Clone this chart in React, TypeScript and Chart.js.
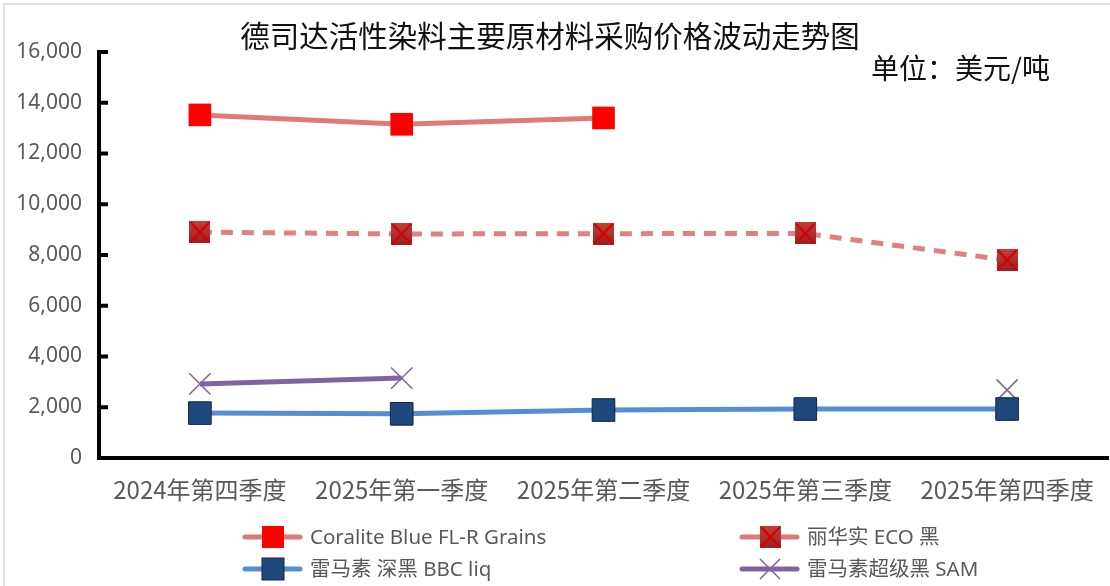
import React, { useEffect, useRef } from "react";
import { Chart, registerables } from "chart.js";

Chart.register(...registerables);

const categories = ["2024年第四季度", "2025年第一季度", "2025年第二季度", "2025年第三季度", "2025年第四季度"];
const coraliteValues = [13520, 13150, 13400, null, null];
const ecoValues = [8900, 8830, 8840, 8850, 7800];
const bbcValues = [1770, 1740, 1890, 1930, 1930];
const samValues = [2920, 3150, null, null, 2680];
const yTicks = [0, 2000, 4000, 6000, 8000, 10000, 12000, 14000, 16000];
const seriesNames = ["Coralite Blue FL-R Grains", "丽华实 ECO 黑", "雷马素 深黑 BBC liq", "雷马素超级黑 SAM"];
const titleText = "德司达活性染料主要原材料采购价格波动走势图";
const unitText = "单位：美元/吨";

function makeEcoMarker(): HTMLCanvasElement {
  const c = document.createElement("canvas");
  c.width = 21;
  c.height = 22;
  const ctx = c.getContext("2d")!;
  const g = ctx.createLinearGradient(0, 0, 0, 22);
  g.addColorStop(0, "#C0403C");
  g.addColorStop(1, "#992222");
  ctx.fillStyle = g;
  ctx.fillRect(0, 0, 21, 22);
  ctx.strokeStyle = "#D80000";
  ctx.lineWidth = 2.2;
  ctx.beginPath();
  ctx.moveTo(1, 1);
  ctx.lineTo(20, 21);
  ctx.moveTo(20, 1);
  ctx.lineTo(1, 21);
  ctx.stroke();
  return c;
}

export default function App() {
  const ref = useRef<HTMLCanvasElement>(null);

  useEffect(() => {
    if (!ref.current) return;
    const ecoMarker = makeEcoMarker();

    const deco = {
      id: "deco",
      beforeDraw(chart: any) {
        const ctx = chart.ctx;
        ctx.save();
        ctx.fillStyle = "#fff";
        ctx.fillRect(0, 0, chart.width, chart.height);
        ctx.strokeStyle = "#D9D9D9";
        ctx.lineWidth = 1.5;
        ctx.strokeRect(4, 4, chart.width + 10, chart.height + 10);
        ctx.restore();
      },
      afterDraw(chart: any) {
        const ctx = chart.ctx;
        const y = chart.scales.y;
        const left = chart.chartArea.left;
        ctx.save();
        ctx.strokeStyle = "#000";
        ctx.lineWidth = 4;
        yTicks.forEach((v) => {
          if (v === 0) return;
          const py = y.getPixelForValue(v);
          ctx.beginPath();
          ctx.moveTo(left - 2, py);
          ctx.lineTo(left + 9, py);
          ctx.stroke();
        });
        ctx.fillStyle = "#111";
        ctx.textAlign = "center";
        ctx.textBaseline = "middle";
        ctx.font = '29.5px "Noto Sans CJK SC"';
        ctx.fillText(titleText, 550, 36);
        ctx.textAlign = "left";
        ctx.font = '28px "Noto Sans CJK SC"';
        ctx.fillText(unitText, 871, 68);

        const items = [
          { x: 245, y: 537, color: "#E07A7A", marker: "redsq" },
          { x: 742, y: 537, color: "#E07A7A", marker: "eco" },
          { x: 245, y: 569, color: "#558ED5", marker: "bluesq" },
          { x: 742, y: 569, color: "#8064A2", marker: "x" },
        ];
        items.forEach((it, i) => {
          ctx.strokeStyle = it.color;
          ctx.lineWidth = 5;
          ctx.lineCap = "round";
          ctx.beginPath();
          ctx.moveTo(it.x, it.y);
          ctx.lineTo(it.x + 55, it.y);
          ctx.stroke();
          const mx = it.x + 28;
          if (it.marker === "redsq") {
            ctx.fillStyle = "#FF0000";
            ctx.fillRect(mx - 11, it.y - 11, 22, 22);
          } else if (it.marker === "eco") {
            ctx.drawImage(ecoMarker, mx - 10, it.y - 11);
          } else if (it.marker === "bluesq") {
            ctx.fillStyle = "#1F497D";
            ctx.fillRect(mx - 11, it.y - 11, 22, 22);
            ctx.strokeStyle = "#10253F";
            ctx.lineWidth = 1;
            ctx.strokeRect(mx - 11, it.y - 11, 22, 22);
          } else {
            ctx.strokeStyle = "#8064A2";
            ctx.lineWidth = 1.5;
            ctx.lineCap = "butt";
            ctx.beginPath();
            ctx.moveTo(mx - 10, it.y - 10);
            ctx.lineTo(mx + 10, it.y + 10);
            ctx.moveTo(mx + 10, it.y - 10);
            ctx.lineTo(mx - 10, it.y + 10);
            ctx.stroke();
          }
          ctx.fillStyle = "#595959";
          ctx.font = '20.5px "Noto Sans", "Noto Sans CJK SC"';
          ctx.textAlign = "left";
          ctx.textBaseline = "middle";
          ctx.fillText(seriesNames[i], it.x + 65, it.y + 1);
        });
        ctx.restore();
      },
    };

    const chart = new Chart(ref.current, {
      type: "line",
      data: {
        labels: categories,
        datasets: [
          {
            label: seriesNames[0],
            data: coraliteValues,
            borderColor: "#E07A7A",
            borderWidth: 5,
            pointStyle: "rect",
            pointRadius: 16,
            pointBackgroundColor: "#FF0000",
            pointBorderColor: "#FF0000",
            pointBorderWidth: 0,
            spanGaps: false,
          },
          {
            label: seriesNames[1],
            data: ecoValues,
            borderColor: "#E08080",
            borderWidth: 5,
            borderDash: [12, 9],
            pointStyle: ecoMarker as any,
            pointRadius: 11,
          },
          {
            label: seriesNames[2],
            data: bbcValues,
            borderColor: "#558ED5",
            borderWidth: 5,
            pointStyle: "rect",
            pointRadius: 16,
            pointBackgroundColor: "#1F497D",
            pointBorderColor: "#10253F",
            pointBorderWidth: 1,
          },
          {
            label: seriesNames[3],
            data: samValues,
            borderColor: "#8064A2",
            borderWidth: 5,
            pointStyle: "crossRot",
            pointRadius: 15,
            pointBorderColor: "#8064A2",
            pointBorderWidth: 1.5,
            spanGaps: false,
          },
        ],
      },
      options: {
        animation: false,
        responsive: false,
        events: [],
        layout: { autoPadding: false, padding: { left: 0, right: 2, top: 52, bottom: 0 } },
        plugins: {
          legend: { display: false },
          title: { display: false },
          tooltip: { enabled: false },
        },
        scales: {
          x: {
            offset: true,
            grid: { display: false },
            border: { display: true, color: "#000", width: 4 },
            ticks: {
              color: "#595959",
              font: { family: '"Noto Sans CJK SC"', size: 24 },
              padding: 9,
              maxRotation: 0,
              autoSkip: false,
            },
            afterFit(scale: any) {
              scale.height = 128;
              scale.paddingLeft = 0;
              scale.paddingRight = 0;
            },
          },
          y: {
            min: 0,
            max: 16000,
            grid: { display: false },
            border: { display: true, color: "#000", width: 4 },
            afterBuildTicks(scale: any) {
              scale.ticks = yTicks.map((v) => ({ value: v }));
            },
            ticks: {
              color: "#595959",
              font: { family: '"Noto Sans"', size: 21 },
              padding: 9,
              callback: (v: any) => Number(v).toLocaleString("en-US"),
            },
            afterFit(scale: any) {
              scale.width = 99;
              scale.paddingTop = 0;
              scale.paddingBottom = 0;
            },
          },
        },
      },
      plugins: [deco],
    });
    return () => chart.destroy();
  }, []);

  return (
    <div style={{ position: "fixed", left: 0, top: 0, width: 1110, height: 586, background: "#fff" }}>
      <canvas ref={ref} width={1110} height={586} style={{ display: "block" }} />
    </div>
  );
}
